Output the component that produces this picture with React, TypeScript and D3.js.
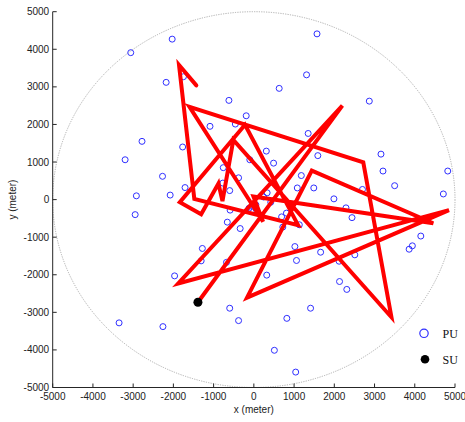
import React from "react";
import * as d3 from "d3";

const xTicks = [-5000, -4000, -3000, -2000, -1000, 0, 1000, 2000, 3000, 4000, 5000];
const yTicks = [-5000, -4000, -3000, -2000, -1000, 0, 1000, 2000, 3000, 4000, 5000];

const puX = [-3060, -2030, -2180, -1750, 630, -620, -190, -1090, -460, 1310, 1350, 1570, 2870, -2780, -3200, -2920, -2950, -2270, -1770, -2080, -1710, -760, -380, -600, -770, 310, -100, 490, 1180, 1080, 330, 420, 240, 50, -120, -70, -590, -660, -340, 690, 810, 720, 1130, -1280, -1310, -680, 1020, 1060, 1590, 3160, 3210, 3500, 4820, 4710, 1490, 2700, 1990, 2290, 2440, 4150, 3940, 3860, 1660, 2510, 2120, -3350, -2260, -1970, 320, -600, -380, 820, 1410, 510, 1040, 2130, 2310];
const puY = [3910, 4270, 3120, 3270, 2960, 2640, 2230, 1950, 2010, 3320, 1760, 4410, 2620, 1550, 1060, 100, -400, 620, 1400, 120, 320, 850, 580, 240, 440, 1290, 1060, 970, 640, 310, 180, -70, 70, -140, -230, -320, -280, -600, -770, -460, -360, -730, -670, -1300, -1630, -1670, -1250, -1620, 1170, 1210, 760, 370, 760, 150, 310, 270, 20, -220, -480, -970, -1230, -1320, -1400, -1470, -1640, -3280, -3380, -2030, -2010, -2890, -3220, -3160, -2890, -4010, -4590, -2180, -2390];

const pathX = [-1390, 2200, -1880, 4850, -170, 1440, 4460, -10, 230, -1600, 2720, 3420, -510, -780, -880, -1310, -1840, -220, 1100, -1480, -1860, -1430];
const pathY = [-2730, 2500, -2230, -280, -2610, 770, -630, 80, -590, 2470, 990, -3130, 1590, -40, 430, -390, -70, 1990, -680, 20, 3580, 3040];

const suX = [-1390];
const suY = [-2730];

const coverageRadius = [5000];
const legendLabels = ["PU", "SU"];
const xLabel = "x (meter)";
const yLabel = "y (meter)";

export default function App() {
  const W = 465;
  const H = 422;
  const x = d3.scaleLinear().domain([-5000, 5000]).range([52.7, 455]);
  const y = d3.scaleLinear().domain([-5000, 5000]).range([387.5, 11.7]);

  const line = d3
    .line<number>()
    .x((i) => x(pathX[i]))
    .y((i) => y(pathY[i]));
  const pathD = line(pathX.map((_, i) => i)) || "";

  const r = coverageRadius[0];
  const font = "'Liberation Sans', Arial, Helvetica, sans-serif";
  const axisColor = "#262626";

  return (
    <svg
      width={W}
      height={H}
      style={{ position: "absolute", left: 0, top: 0, background: "#fff" }}
    >
      <rect x={0} y={0} width={W} height={H} fill="#fff" />
      {/* coverage circle */}
      <ellipse
        cx={x(0)}
        cy={y(0)}
        rx={x(r) - x(0)}
        ry={y(0) - y(r)}
        fill="none"
        stroke="#9a9a9a"
        strokeWidth={0.8}
        strokeDasharray="1.2,1.2"
      />
      {/* PU points */}
      {puX.map((px, i) => (
        <circle
          key={"pu" + i}
          cx={x(px)}
          cy={y(puY[i])}
          r={3}
          fill="none"
          stroke="#3030ff"
          strokeWidth={1}
        />
      ))}
      {/* trajectory */}
      <path
        d={pathD}
        fill="none"
        stroke="#ff0000"
        strokeWidth={4}
        strokeLinejoin="miter"
        strokeLinecap="round"
      />
      {/* SU */}
      {suX.map((sx, i) => (
        <circle key={"su" + i} cx={x(sx)} cy={y(suY[i])} r={4.5} fill="#000" />
      ))}
      {/* axes */}
      <line x1={x(-5000)} y1={y(-5000)} x2={x(-5000)} y2={y(5000)} stroke={axisColor} strokeWidth={1} />
      <line x1={x(-5000)} y1={y(-5000)} x2={x(5000)} y2={y(-5000)} stroke={axisColor} strokeWidth={1} />
      {yTicks.map((t) => (
        <g key={"yt" + t}>
          <line x1={x(-5000)} x2={x(-5000) + 4} y1={y(t)} y2={y(t)} stroke={axisColor} strokeWidth={1} />
          <text
            x={x(-5000) - 3.5}
            y={y(t)}
            dy="0.35em"
            textAnchor="end"
            fontFamily={font}
            fontSize={10}
            fill="#222"
          >
            {t}
          </text>
        </g>
      ))}
      {xTicks.map((t) => (
        <g key={"xt" + t}>
          <line x1={x(t)} x2={x(t)} y1={y(-5000)} y2={y(-5000) - 4} stroke={axisColor} strokeWidth={1} />
          <text
            x={x(t)}
            y={400}
            textAnchor="middle"
            fontFamily={font}
            fontSize={10}
            fill="#222"
          >
            {t}
          </text>
        </g>
      ))}
      <text x={x(0)} y={413} textAnchor="middle" fontFamily={font} fontSize={10} fill="#222">
        {xLabel}
      </text>
      <text
        transform={`translate(16,${y(0)}) rotate(-90)`}
        textAnchor="middle"
        fontFamily={font}
        fontSize={10}
        fill="#222"
      >
        {yLabel}
      </text>
      {/* legend */}
      <circle cx={424} cy={333.3} r={4.2} fill="none" stroke="#3030ff" strokeWidth={1.2} />
      <text x={442.5} y={337.5} fontFamily="'Liberation Serif', 'Times New Roman', serif" fontSize={12} fill="#111">
        {legendLabels[0]}
      </text>
      <circle cx={425} cy={359.3} r={4.3} fill="#000" />
      <text x={442.5} y={363.8} fontFamily="'Liberation Serif', 'Times New Roman', serif" fontSize={12} fill="#111">
        {legendLabels[1]}
      </text>
    </svg>
  );
}
